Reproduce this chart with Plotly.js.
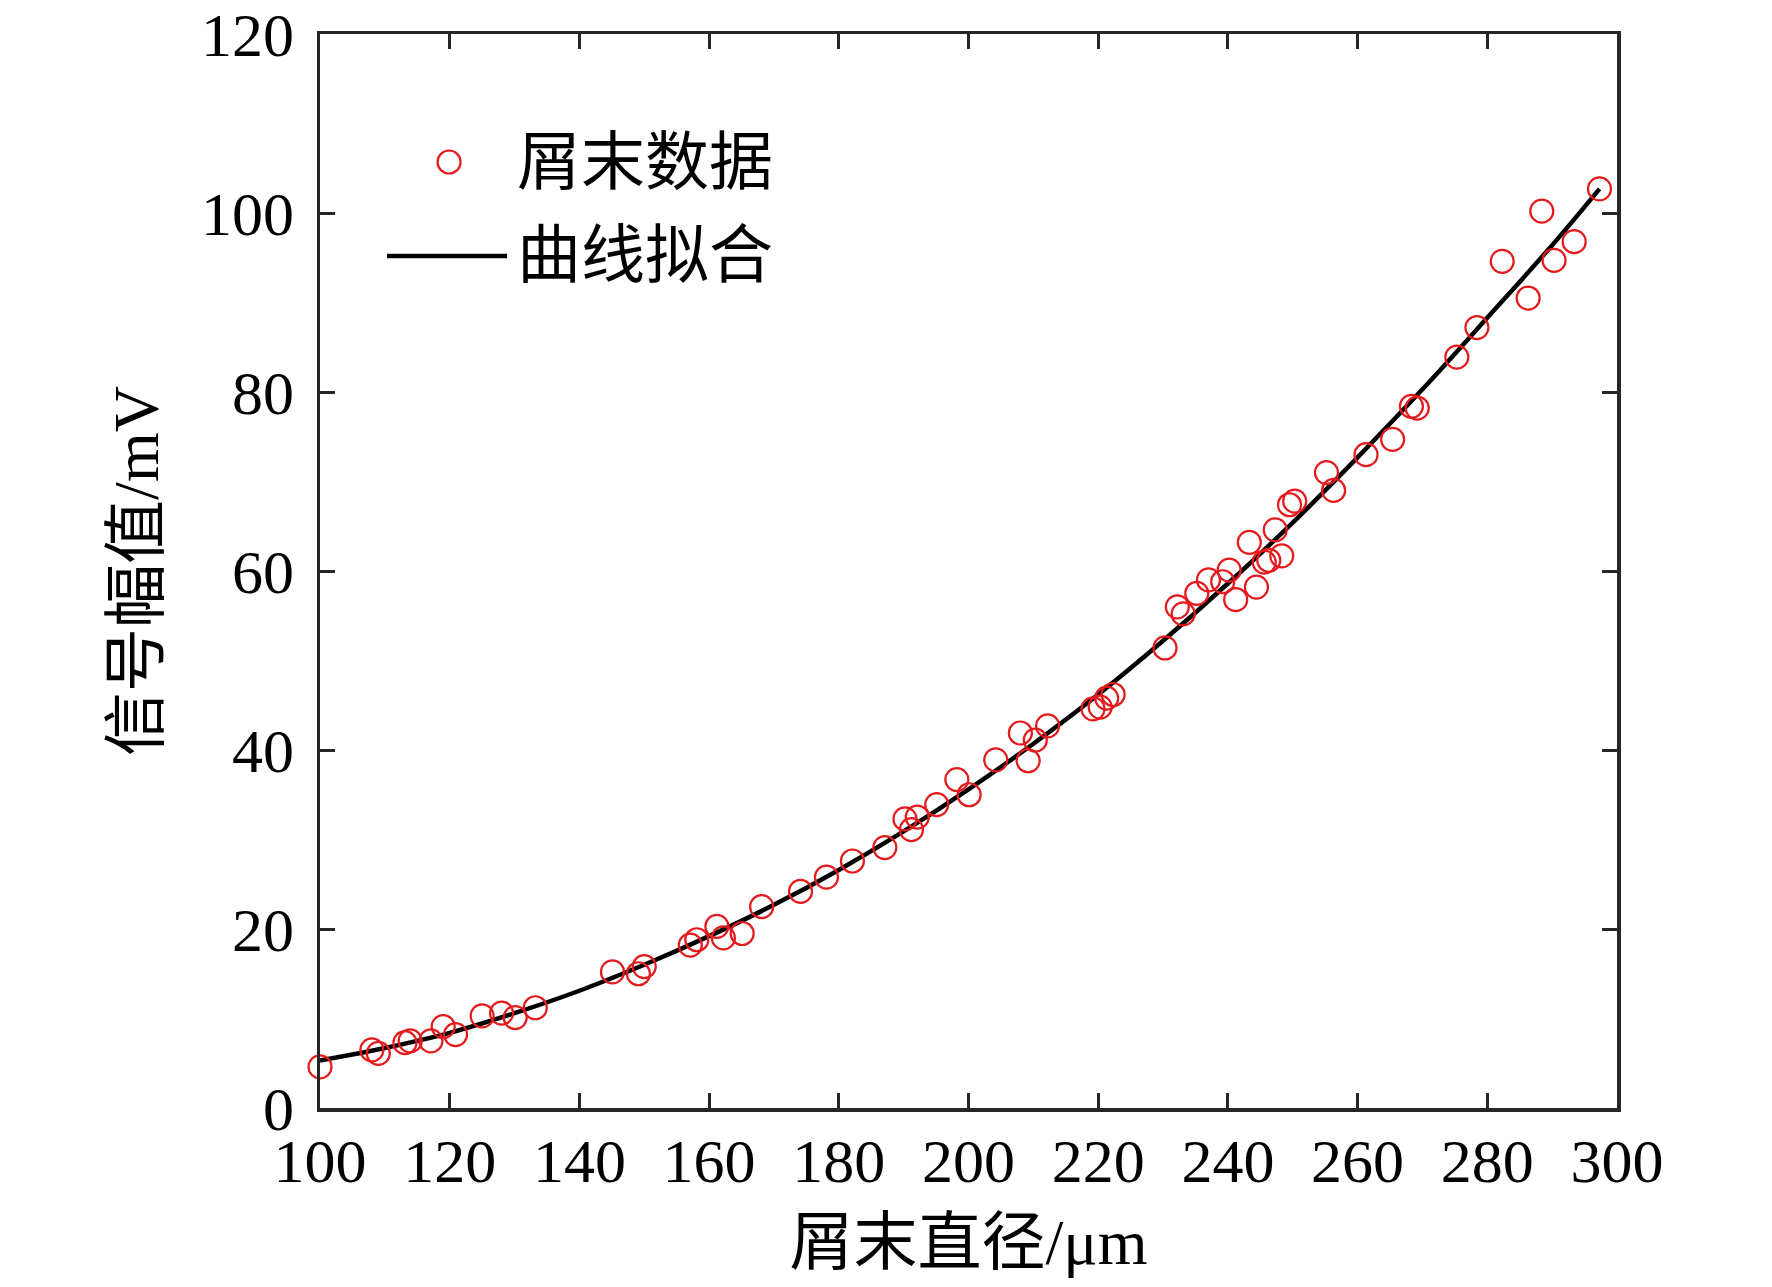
<!DOCTYPE html>
<html>
<head>
<meta charset="utf-8">
<script src="https://cdn.plot.ly/plotly-3.0.1.min.js"></script>
<style>
  html, body { margin: 0; padding: 0; background: #fff; }
  #plot { width: 1772px; height: 1287px; }
</style>
</head>
<body>
<div id="plot"></div>
<script>
// measured debris data (diameter in um, signal amplitude in mV)
const diameter = [
  100.0, 108.0, 109.0, 113.1, 113.9, 117.1, 119.0, 120.9, 125.0, 128.0,
  130.1, 133.2, 145.1, 149.1, 150.0, 157.1, 158.1, 161.2, 162.2, 165.1,
  168.1, 174.1, 178.1, 182.1, 187.1, 190.2, 191.2, 192.1, 195.1, 198.2,
  200.1, 204.2, 208.0, 209.2, 210.3, 212.2, 219.2, 220.3, 221.3, 222.3,
  230.3, 232.2, 233.1, 235.2, 237.0, 239.2, 240.2, 241.2, 243.3, 244.4,
  245.6, 246.3, 247.3, 248.3, 249.5, 250.3, 255.2, 256.3, 261.3, 265.4,
  268.3, 269.2, 275.3, 278.4, 282.3, 286.3, 288.4, 290.3, 293.4, 297.3
];
const amplitude = [
  4.6, 6.5, 6.1, 7.3, 7.5, 7.5, 9.1, 8.2, 10.3, 10.6,
  10.1, 11.2, 15.2, 15.0, 15.8, 18.2, 18.8, 20.3, 19.0, 19.5,
  22.5, 24.2, 25.8, 27.6, 29.1, 32.3, 31.1, 32.5, 33.9, 36.7,
  35.0, 38.9, 41.9, 38.8, 41.1, 42.7, 44.6, 44.8, 45.8, 46.2,
  51.4, 56.0, 55.2, 57.5, 59.0, 58.8, 60.1, 56.8, 63.2, 58.2,
  61.0, 61.2, 64.6, 61.7, 67.4, 67.8, 71.0, 69.0, 73.0, 74.7,
  78.4, 78.2, 83.9, 87.2, 94.6, 90.5, 100.2, 94.7, 96.8, 102.7
];

// fitted curve
const fitX = [100, 110, 120, 130, 140, 150, 160, 170, 180, 190, 200,
              210, 220, 230, 240, 250, 260, 270, 280, 290, 297.3];
const fitY = [5.3, 6.7, 8.4, 10.6, 13.1, 16.0, 19.2, 22.7, 26.6, 30.9, 35.6,
              40.7, 46.2, 52.2, 58.6, 65.4, 72.7, 80.3, 88.3, 96.4, 102.7];

const xTicks = [100, 120, 140, 160, 180, 200, 220, 240, 260, 280, 300];
const yTicks = [0, 20, 40, 60, 80, 100, 120];

const seriesNames = ['屑末数据', '曲线拟合'];
const xTitle = '屑末直径/μm';
const yTitle = '信号幅值/mV';

const red = '#e41a1c';
const axisColor = '#262626';
const serif = 'Liberation Serif, Times New Roman, Noto Sans CJK SC, serif';

const data = [
  {
    x: fitX,
    y: fitY,
    type: 'scatter',
    mode: 'lines',
    name: seriesNames[1],
    line: { color: '#000', width: 4.5, shape: 'spline' },
    hoverinfo: 'skip'
  },
  {
    x: diameter,
    y: amplitude,
    type: 'scatter',
    mode: 'markers',
    name: seriesNames[0],
    cliponaxis: false,
    marker: { symbol: 'circle-open', size: 23, color: red, line: { color: red, width: 2.2 } }
  }
];

const axisCommon = {
  showline: true,
  linecolor: axisColor,
  linewidth: 3.5,
  mirror: 'ticks',
  ticks: 'inside',
  ticklen: 15,
  tickwidth: 3,
  tickcolor: axisColor,
  showgrid: false,
  zeroline: false,
  tickfont: { family: serif, size: 62, color: '#000' }
};

// hand-drawn legend in paper coordinates (MATLAB style, no box)
const legendShapes = [
  { type: 'line', xref: 'paper', yref: 'paper', x0: 0.0517, x1: 0.1442, y0: 0.7933, y1: 0.7933,
    line: { color: '#000', width: 4.5 } },
  { type: 'circle', xref: 'paper', yref: 'paper', xsizemode: 'pixel', ysizemode: 'pixel',
    xanchor: 0.0995, yanchor: 0.8808, x0: -11.5, x1: 11.5, y0: -11.5, y1: 11.5,
    line: { color: red, width: 2.2 } }
];
const legendNotes = [
  { text: seriesNames[0], xref: 'paper', yref: 'paper', x: 0.1505, y: 0.8808,
    xanchor: 'left', yanchor: 'middle', showarrow: false,
    font: { family: serif, size: 64, color: '#000' } },
  { text: seriesNames[1], xref: 'paper', yref: 'paper', x: 0.1505, y: 0.7933,
    xanchor: 'left', yanchor: 'middle', showarrow: false,
    font: { family: serif, size: 64, color: '#000' } }
];

const layout = {
  width: 1772,
  height: 1287,
  paper_bgcolor: '#fff',
  plot_bgcolor: '#fff',
  showlegend: false,
  margin: { l: 320, r: 155, t: 34, b: 179 },
  font: { family: serif, color: '#000' },
  xaxis: Object.assign({}, axisCommon, {
    range: [100, 300],
    tickvals: xTicks,
    ticktext: xTicks.map(String),
    ticklabelstandoff: -4,
    title: { text: xTitle, font: { family: serif, size: 64, color: '#000' }, standoff: 26 }
  }),
  yaxis: Object.assign({}, axisCommon, {
    range: [0, 120],
    tickvals: yTicks,
    ticktext: yTicks.map(String),
    ticklabelstandoff: 10,
    title: { text: yTitle, font: { family: serif, size: 64, color: '#000' }, standoff: 22 }
  }),
  shapes: legendShapes,
  annotations: legendNotes
};

Plotly.newPlot('plot', data, layout, { displayModeBar: false, staticPlot: true });
</script>
</body>
</html>
